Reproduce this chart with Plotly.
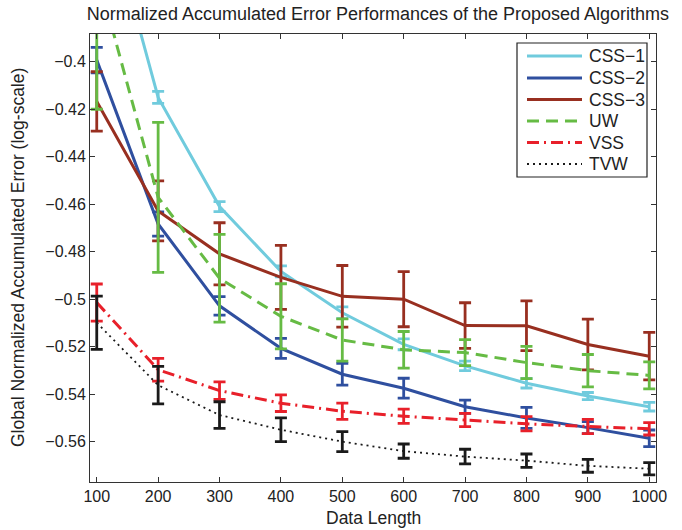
import plotly.graph_objects as go

data_length = [100, 200, 300, 400, 500, 600, 700, 800, 900, 1000]

css1 = [-0.320, -0.4150, -0.4610, -0.4883, -0.5057, -0.5190, -0.5281, -0.5354, -0.5408, -0.5453]
css1_err = [0.003, 0.0025, 0.0021, 0.0023, 0.0025, 0.0023, 0.0020, 0.0020, 0.0015, 0.0018]

css2 = [-0.3993, -0.4683, -0.5028, -0.5207, -0.5316, -0.5375, -0.5453, -0.5500, -0.5541, -0.5586]
css2_err = [0.0054, 0.0051, 0.0039, 0.0042, 0.0046, 0.0042, 0.0028, 0.0044, 0.0025, 0.0035]

css3 = [-0.4167, -0.4628, -0.4809, -0.4908, -0.4988, -0.5000, -0.5111, -0.5112, -0.5191, -0.5240]
css3_err = [0.0125, 0.0126, 0.0131, 0.0135, 0.0130, 0.0116, 0.0096, 0.0105, 0.0107, 0.0100]

uw = [-0.362, -0.4571, -0.4912, -0.5072, -0.5172, -0.5213, -0.5225, -0.5267, -0.5301, -0.5321]
uw_err = [0.058, 0.0316, 0.0185, 0.0137, 0.0089, 0.0077, 0.0055, 0.0068, 0.0068, 0.0057]

vss = [-0.5014, -0.5297, -0.5385, -0.5438, -0.5472, -0.5493, -0.5509, -0.5525, -0.5536, -0.5546]
vss_err = [0.0078, 0.0048, 0.0037, 0.0035, 0.0034, 0.0030, 0.0028, 0.0030, 0.0030, 0.0026]

tvw = [-0.5099, -0.5362, -0.5488, -0.5550, -0.5600, -0.5640, -0.5663, -0.5680, -0.5702, -0.5714]
tvw_err = [0.0112, 0.0079, 0.0056, 0.0050, 0.0042, 0.0030, 0.0031, 0.0028, 0.0027, 0.0026]

series_names = ["CSS\u22121", "CSS\u22122", "CSS\u22123", "UW", "VSS", "TVW"]
series_values = [css1, css2, css3, uw, vss, tvw]
series_errors = [css1_err, css2_err, css3_err, uw_err, vss_err, tvw_err]

colors = ["#70CBDD", "#2F4F9F", "#982F20", "#66BB44", "#E8202A", "#1A1A1A"]
dashes = ["solid", "solid", "solid", "12px,7px", "12px,5px,2px,5px", "2px,4px"]
widths = [3, 3, 3, 3, 3, 1.8]

W, H = 682, 530
ML, MR, MT, MB = 90, 26, 34, 48
PW, PH = W - ML - MR, H - MT - MB


def px_x(px):
    return (px - ML) / PW


def px_y(py):
    return 1 - (py - MT) / PH


font_family = "Liberation Sans, Arial, Helvetica, sans-serif"

fig = go.Figure()
for name, y, err, color, dash, lw in zip(series_names, series_values, series_errors,
                                         colors, dashes, widths):
    fig.add_trace(go.Scatter(
        x=data_length, y=y, name=name, mode="lines", showlegend=False,
        line=dict(color=color, width=lw, dash=dash),
        error_y=dict(type="data", array=err, visible=True, color=color,
                     thickness=2.8, width=6),
    ))

# legend drawn manually to match the MATLAB-style box
shapes = [dict(type="rect", xref="paper", yref="paper",
               x0=px_x(517), x1=px_x(647), y0=px_y(177), y1=px_y(43),
               line=dict(color="#222222", width=1.2), fillcolor="white", layer="above")]
annotations = []
row_y = [56, 78, 99.5, 121, 142.5, 164]
for i, name in enumerate(series_names):
    yy = px_y(row_y[i])
    shapes.append(dict(type="line", xref="paper", yref="paper",
                       x0=px_x(527), x1=px_x(582), y0=yy, y1=yy, layer="above",
                       line=dict(color=colors[i], width=widths[i], dash=dashes[i])))
    annotations.append(dict(text=name, xref="paper", yref="paper", x=px_x(587), y=yy,
                            xanchor="left", yanchor="middle", showarrow=False,
                            font=dict(family=font_family, size=17.5, color="#222222")))

# axis titles
annotations.append(dict(text="Data Length", xref="paper", yref="paper",
                        x=px_x(373), y=px_y(518), xanchor="center", yanchor="middle",
                        showarrow=False,
                        font=dict(family=font_family, size=17.5, color="#222222")))
annotations.append(dict(text="Global Normalized Accumulated Error (log-scale)",
                        xref="paper", yref="paper", x=px_x(18), y=px_y(258),
                        xanchor="center", yanchor="middle", textangle=-90,
                        showarrow=False,
                        font=dict(family=font_family, size=17.5, color="#222222")))

axis_common = dict(
    showgrid=False, zeroline=False, showline=True, linecolor="#333333",
    linewidth=1, mirror="ticks", ticks="inside", ticklen=5, tickcolor="#333333",
    tickfont=dict(family=font_family, size=16, color="#222222"),
    automargin=False,
)

fig.update_layout(
    width=W, height=H,
    margin=dict(l=ML, r=MR, t=MT, b=MB),
    paper_bgcolor="white", plot_bgcolor="white",
    title=dict(text="Normalized Accumulated Error Performances of the Proposed Algorithms",
               x=378 / W, xanchor="center", y=1 - 14 / H, yanchor="middle",
               font=dict(family=font_family, size=18, color="#222222")),
    xaxis=dict(range=[89, 1011], tickvals=data_length, **axis_common),
    yaxis=dict(range=[-0.577, -0.3883], tick0=-0.4, dtick=0.02, **axis_common),
    shapes=shapes,
    annotations=annotations,
    showlegend=False,
)

fig.write_html("out.html")
